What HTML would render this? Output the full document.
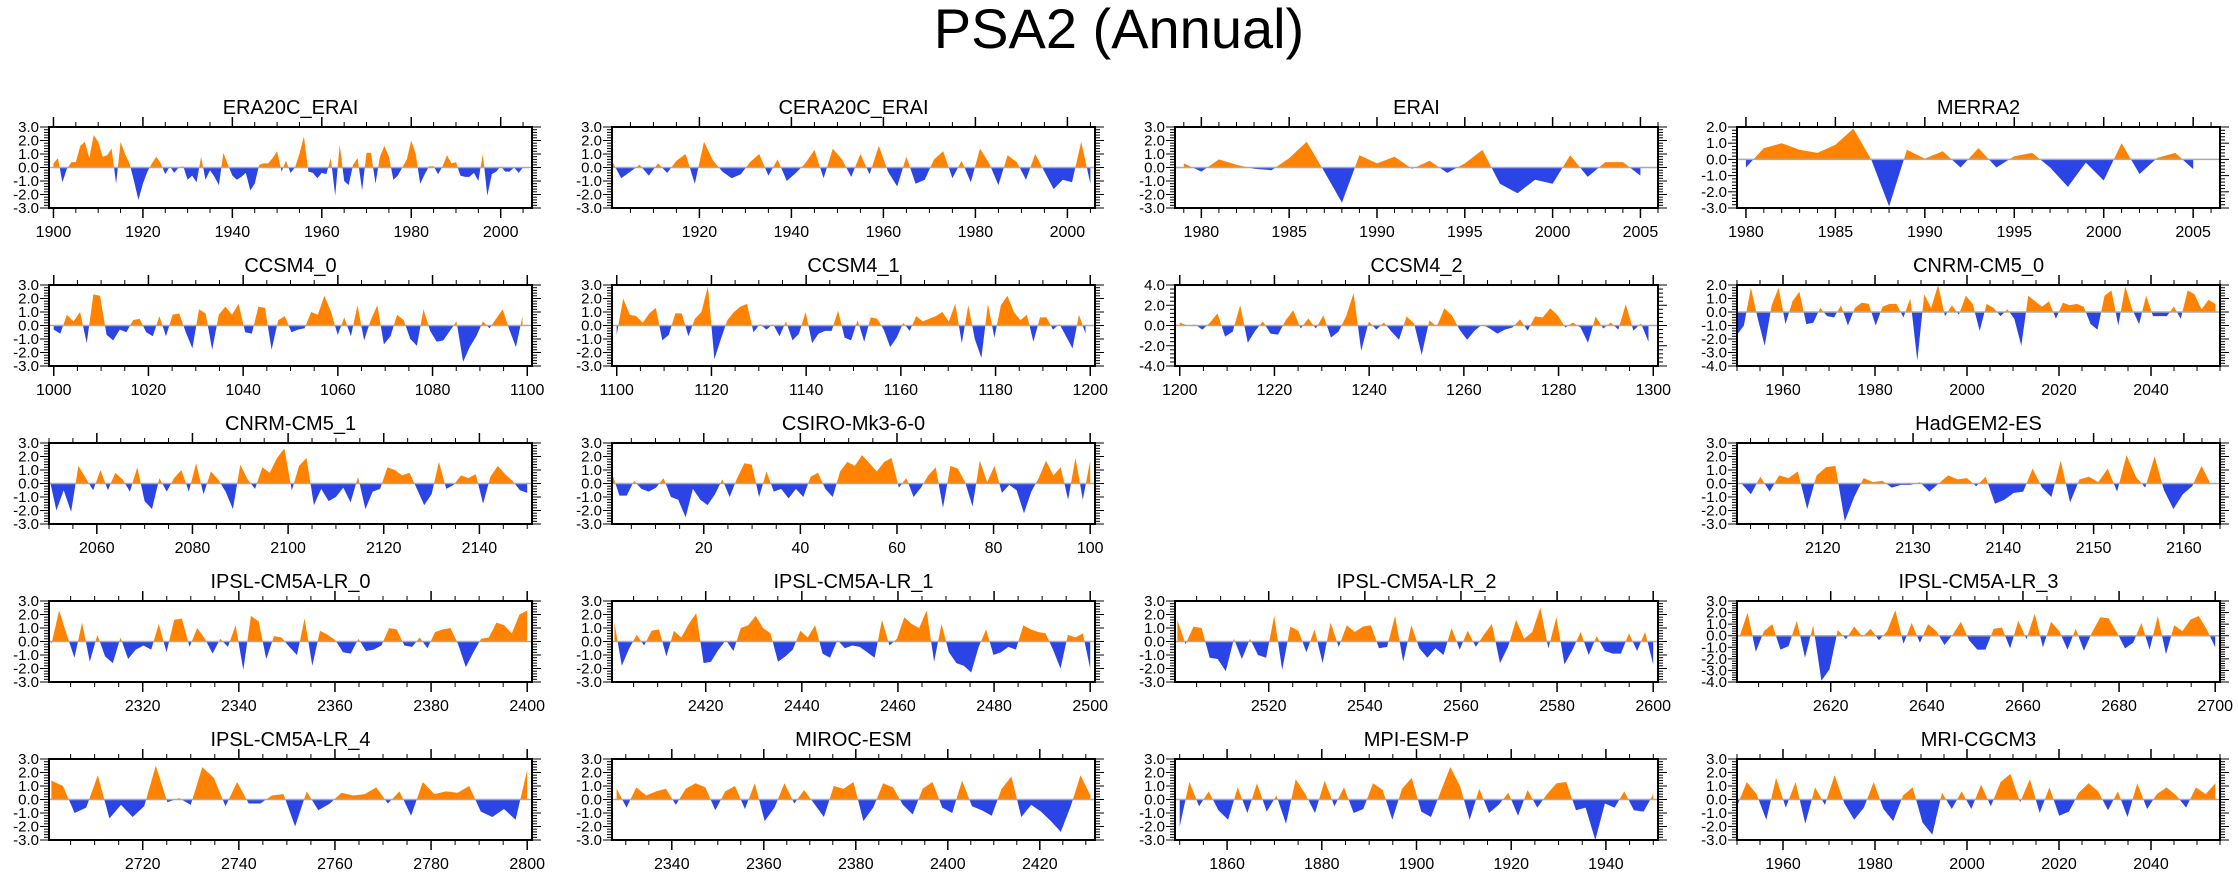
<!DOCTYPE html>
<html><head><meta charset="utf-8"><title>PSA2 (Annual)</title>
<style>
html,body{margin:0;padding:0;background:#fff;}
svg{display:block;font-family:"Liberation Sans",Arial,sans-serif;}
</style></head>
<body>
<svg id="chart" width="2238" height="877" viewBox="0 0 2238 877" xmlns="http://www.w3.org/2000/svg">
<text x="1119" y="48" text-anchor="middle" font-size="56" fill="#000">PSA2 (Annual)</text>
</svg>
<script>
// ---- data arrays ----
const panelNames = ["ERA20C_ERAI","CERA20C_ERAI","ERAI","MERRA2","CCSM4_0","CCSM4_1","CCSM4_2","CNRM-CM5_0","CNRM-CM5_1","CSIRO-Mk3-6-0","HadGEM2-ES","IPSL-CM5A-LR_0","IPSL-CM5A-LR_1","IPSL-CM5A-LR_2","IPSL-CM5A-LR_3","IPSL-CM5A-LR_4","MIROC-ESM","MPI-ESM-P","MRI-CGCM3"];
const dataStart = [1900,1901,1979,1980,1000,1100,1200,1950,2050,1,2111,2301,2401,2501,2601,2701,2328,1850,1950];
const dataEnd   = [2005,2005,2005,2005,1099,1199,1299,2054,2150,100,2163,2400,2500,2600,2700,2800,2431,1950,2054];
const axisMin   = [1899,1901,1978.5,1979.5,999,1099,1199,1950,2050,1,2110.5,2300.5,2400.5,2500.5,2600.5,2700.5,2327,1849,1950];
const axisMax   = [2007,2006,2006,2006.5,1101,1201,1301,2055,2151,101,2164,2401,2501,2601,2701,2801,2432,1951,2055];
const yMin = [-3,-3,-3,-3,-3,-3,-4,-4,-3,-3,-3,-3,-3,-3,-4,-3,-3,-3,-3];
const yMax = [3,3,3,2,3,3,4,2,3,3,3,3,3,3,3,3,3,3,3];
const yStep = [1,1,1,1,1,1,2,1,1,1,1,1,1,1,1,1,1,1,1];
const xMajor = [20,20,5,5,20,20,20,20,20,20,10,20,20,20,20,20,20,20,20];
const xMinor = [5,5,1,1,5,5,5,5,5,5,2,5,5,5,5,5,5,5,5];
const s0 = [0.3,0.7,-1.1,-0.1,0.4,0.4,1.6,1.9,0.7,2.4,1.9,0.8,0.9,1.4,-1.2,1.9,1.0,0.3,-1.0,-2.4,-1.2,-0.3,0.3,0.8,0.3,-0.5,0.1,-0.4,0,0.1,-0.9,-0.6,-1.1,0.8,-0.9,-0.2,-0.7,-1.3,1.1,0.2,-0.6,-0.9,-0.7,-0.4,-1.7,-1.2,0.2,0.3,0.3,0.7,1.2,-0.3,0.5,-0.4,0,1.0,2.3,-0.3,-0.4,-0.8,-0.4,-0.5,0.7,-2.1,1.7,-1.0,-1.3,0.2,0.7,-1.7,1.1,1.1,-1.2,0.8,1.6,0.8,-0.9,-0.6,0,0.6,2.0,1.0,-1.2,-0.5,0.1,0.1,-0.5,0.1,0.9,0.3,0.4,-0.6,-0.7,-0.7,-0.4,-1.0,1.0,-2.1,-0.5,-0.3,0.1,-0.3,-0.3,0,-0.4,0];
const s1 = [0.5,-0.8,-0.3,0.2,-0.6,0.3,-0.4,0.5,1.0,-1.2,1.9,0.5,-0.3,-0.8,-0.5,0.4,1.0,-0.6,0.6,-1.0,-0.4,0.3,1.3,-0.8,1.4,0.6,-0.7,1.0,-0.5,1.6,-0.3,-1.4,0.8,-1.2,-0.9,0.6,1.2,-0.8,0.5,-1.1,1.4,0.3,-1.3,0.9,0.4,-0.9,1.0,-0.3,-1.6,-0.9,-1.1,1.9,-1.2];
const s2 = [0.3,-0.3,0.6,0.2,-0.1,-0.2,0.7,1.9,-0.3,-2.6,0.9,0.3,0.8,-0.1,0.5,-0.4,0.3,1.3,-1.2,-1.9,-0.9,-1.2,0.9,-0.7,0.4,0.4,-0.6];
const s3 = [-0.5,0.7,1.0,0.6,0.4,0.9,1.9,0,-2.9,0.6,0.05,0.5,-0.5,0.7,-0.5,0.2,0.4,-0.5,-1.7,-0.2,-1.3,1.0,-0.9,0.1,0.4,-0.6];
const s4 = [-0.3,-0.6,0.8,0.3,1.0,-1.3,2.3,2.2,-0.7,-1.1,-0.3,-0.5,0.4,0.5,-0.5,-0.8,0.7,-0.8,0.8,0.9,-0.5,-1.7,1.2,0.9,-1.8,0.8,1.4,0.8,1.6,-0.5,-0.6,1.4,1.3,-1.8,0.4,0.7,-0.5,-0.3,-0.2,1.0,0.8,2.2,1.0,-0.7,0.6,-0.8,1.5,-1.1,0.4,1.5,-1.4,-0.8,0.8,0.4,-1.0,-1.5,1.2,-0.4,-1.2,-1.1,-0.4,0.3,-2.7,-1.6,-0.8,0.3,-0.2,0.5,1.2,-0.3,-1.6,0.7];
const s5 = [-0.7,2.0,0.8,0.7,0.2,0.9,1.3,-1.1,-0.7,0.9,0.9,-0.8,0.5,1.0,2.9,-2.5,-1.0,0.4,1.0,1.4,1.6,-0.5,0.1,-0.3,0.1,-0.8,0.3,-1.1,-0.6,1.0,-1.3,-0.6,-0.4,-0.4,1.1,-0.9,-1.1,0.4,-1.2,0.6,0.5,-0.3,-1.6,-0.9,0.2,-0.4,0.7,0.3,0.5,0.7,1.0,0.3,1.6,-1.3,1.5,-1.0,-2.4,1.6,-0.9,1.5,2.2,1.0,0.4,0.8,-1.2,0.6,0.6,-0.3,0.1,-0.8,-1.7,0.8,-0.6];
const s6 = [0.3,0,0.1,-0.4,0.3,1.2,-1.1,-0.6,2.0,-1.7,-0.5,0.4,-0.8,-0.9,0.5,1.5,-0.3,0.7,-0.3,1.0,-1.2,-0.6,0.9,3.2,-2.5,0.4,-0.4,0.3,-0.6,-1.4,0.9,0.2,-2.9,0.5,-0.1,1.7,1.0,-0.4,-1.4,-0.5,0.1,-0.3,-0.8,-0.4,-0.2,0.6,-0.5,0.9,0.8,1.7,1.0,-0.2,0.3,-0.2,-1.7,0.9,-0.3,0.3,-0.4,2.1,-0.5,0.2,-1.6];
const s7 = [-1.7,-1.0,1.8,-0.5,-2.5,0.5,1.8,-0.9,0.8,1.5,-0.9,-0.8,0.3,-0.3,-0.4,0.5,-1.0,0.3,0.7,0.6,-1.0,0.4,0.6,0.6,-0.4,1.0,-3.6,1.3,0.3,2.0,-0.3,0.5,-0.2,1.2,0.6,-1.4,0.6,0.3,-0.3,0.2,-0.5,-2.5,1.2,0.8,0.4,0.8,-0.5,0.7,0.5,0.6,0.4,-0.9,-1.3,1.2,1.6,-1.0,1.9,0.2,-0.9,1.2,-0.3,-0.3,-0.3,0.4,-0.5,1.6,1.3,0.2,0.9,0.6];
const s8 = [0.5,-2.0,-0.5,-2.1,1.3,0.4,-0.5,1.0,-0.5,0.8,0.3,-0.6,1.2,-1.3,-1.9,0.4,-0.6,0.4,1.0,-0.6,1.5,-0.8,0.9,0.3,-0.6,-1.9,1.4,0.3,-0.4,1.2,0.8,1.9,2.6,-0.5,1.3,1.9,-1.6,-0.4,-1.3,-1.0,-0.3,-1.4,0.5,-1.9,-0.6,-0.4,1.2,1.0,0.6,0.8,-0.4,-1.6,-0.8,1.6,-0.4,-0.1,0.6,0.4,0.7,-1.5,0.5,1.3,0.7,0.2,-0.5,-0.7];
const s9 = [0.8,-0.9,-0.9,0.2,-0.4,-0.6,-0.3,0.4,-1.0,-1.2,-2.5,-0.4,-1.2,-1.6,-0.8,0.3,-1.0,0.4,1.5,1.4,-1.0,0.9,-0.6,-0.4,-1.1,-0.4,-1.0,0.5,0.8,-0.4,-1.0,0.9,1.6,1.3,2.1,1.5,0.9,1.6,1.9,-0.3,0.4,-1.0,-0.3,0.6,1.2,-1.8,1.3,1.1,0.1,-1.7,1.7,0.1,1.3,-0.7,-0.1,-0.5,-2.2,-0.6,0.4,1.7,0.6,1.2,-1.2,1.9,-1.2,1.7];
const s10 = [0,-0.8,0.5,-0.6,0.6,0.4,0.9,-1.9,0.6,1.2,1.3,-2.8,-1.0,0.4,0.1,0.2,-0.3,-0.1,-0.1,0.1,-0.6,0,0.6,0.3,0.4,-0.2,0.5,-1.5,-1.2,-0.7,-0.6,1.1,-0.3,-1.0,1.7,-1.4,0.3,0.5,0.1,1.1,-0.6,2.1,0.5,-0.3,2.0,-0.5,-1.9,-0.8,-0.2,1.3,-0.1];
const s11 = [-0.2,2.3,0.5,-1.2,1.4,-1.5,0.5,-1.1,-1.6,0.3,-1.3,-0.6,-0.3,-0.6,1.3,-0.8,1.6,1.7,-0.4,1.0,0.2,-0.9,0.2,-0.4,1.2,-2.1,1.9,1.5,-1.3,0.4,0.3,-0.4,-1.0,1.7,-1.8,0.8,0.5,0.1,-0.8,-0.9,0.2,-0.7,-0.6,-0.3,1.0,0.9,-0.3,-0.4,0.3,-0.5,0.7,0.9,1.0,-0.2,-1.9,-0.8,0.2,0.3,1.4,1.2,0.6,2.0,2.3];
const s12 = [1.4,-1.8,-0.5,0.5,-0.3,0.8,0.9,-1.1,0.8,0.3,1.3,2.1,-1.6,-1.5,-0.6,0.1,-0.7,1.0,1.2,1.9,1.0,0.6,-1.5,-1.1,-0.6,0.8,0.3,1.2,-0.9,-1.2,0.1,-0.5,-0.3,-0.4,-0.8,-1.2,1.6,-0.3,0.2,1.8,1.3,1.0,2.3,-1.5,1.3,-0.8,-1.6,-1.8,-2.3,-0.4,0.9,-1.0,-0.8,-0.4,-0.6,1.2,0.9,0.7,0.6,-0.6,-2.0,0.5,0.3,0.6,-2.0];
const s13 = [1.6,-0.2,1.1,1.0,-1.2,-1.3,-2.2,0.2,-1.3,0.2,-1.0,-1.2,1.9,-2.1,1.1,0.8,-0.8,0.9,-1.6,1.4,-0.4,1.2,0.7,1.1,1.2,-0.5,-0.4,1.9,-1.5,1.2,-0.5,-1.2,-0.5,-1.0,1.0,-0.6,0.8,-0.4,0.5,1.3,-1.6,-0.4,1.6,0.2,0.7,2.5,-0.5,1.8,-1.7,-0.6,0.7,-1.0,0.4,-0.7,-0.9,-0.9,0.6,-0.7,0.7,-1.7];
const s14 = [-0.1,2.0,-1.4,0.4,1.0,-1.2,-0.9,1.3,-1.9,0.9,-3.9,-2.9,0.5,-0.3,0.8,-0.1,0.6,-0.4,0.4,2.2,-0.7,1.1,-0.6,1.0,0.4,-0.8,0.1,1.2,-0.4,-1.2,-1.2,0.6,0.7,-1.1,1.3,-0.3,1.9,-1.0,1.2,0.4,-1.2,0.6,-1.3,0.3,1.6,1.5,0.3,-1.1,-0.6,1.1,-1.2,1.7,-1.6,0.9,0.4,1.4,1.7,0.5,-1.0];
const s15 = [1.4,1.0,-1.0,-0.6,1.8,-1.4,-0.4,-1.3,-0.5,2.5,-0.2,0.1,-0.4,2.4,1.6,-0.5,1.3,-0.3,-0.3,0.3,0.4,-2.0,0.6,-0.8,-0.3,0.5,0.3,0.4,0.9,-0.3,0.6,-1.2,1.3,0.4,0.6,0.5,1.0,-0.9,-1.3,-0.7,-1.5,2.2];
const s16 = [0.8,-0.6,0.9,0.3,0.6,0.8,-0.4,0.8,1.2,0.9,-0.8,0.6,1.0,-0.7,1.2,-1.6,-0.6,1.2,-0.3,0.7,-0.3,-1.3,1.0,0.8,1.3,-1.6,-0.6,1.2,0.9,-0.4,-1.1,0.8,1.3,-0.6,-1.0,1.4,-0.5,-0.8,-1.2,0.8,1.7,-1.3,-0.4,-0.9,-1.6,-2.4,-0.5,1.8,0.3];
const s17 = [-2.0,1.3,-0.5,0.6,-0.8,-1.5,0.9,-1.0,1.2,-0.9,0.3,-1.8,1.5,0.4,-1.0,1.4,-0.5,0.9,-1.0,-0.7,1.2,0.7,-1.5,0.8,1.6,-0.9,-1.3,0.6,2.4,1.0,-1.5,0.8,-1.0,-0.4,0.5,-1.2,0.7,-0.6,0.4,1.2,1.3,-0.8,-0.6,-3.0,-0.3,-0.6,0.6,-0.8,-0.9,0.4];
const s18 = [-0.5,1.3,0.4,-1.5,1.6,-0.6,1.3,-1.8,0.9,-0.4,1.8,-0.3,-1.5,-0.6,1.3,-0.7,-1.6,0.3,0.9,-1.7,-2.6,0.5,-0.7,0.6,-0.7,1.1,-0.5,1.3,1.9,-0.2,1.5,-1.0,0.9,-1.2,-0.9,0.5,1.2,0.6,-0.8,0.6,-1.3,1.2,-0.7,0.4,0.9,0.3,-0.6,0.9,0.4,1.2];
const series = [s0,s1,s2,s3,s4,s5,s6,s7,s8,s9,s10,s11,s12,s13,s14,s15,s16,s17,s18];
const slotRow = [0,0,0,0,1,1,1,1,2,2,2,3,3,3,3,4,4,4,4];
const slotCol = [0,1,2,3,0,1,2,3,0,1,3,0,1,2,3,0,1,2,3];

const NS = "http://www.w3.org/2000/svg";
const svg = document.getElementById("chart");
const colLeft = [49,612,1175,1737], boxW = 483, rowTop = [127,285,443,601,759], boxH = 81;
function mk(tag, attrs, parent){const e=document.createElementNS(NS,tag);for(const k in attrs)e.setAttribute(k,attrs[k]);(parent||svg).appendChild(e);return e;}

series.forEach((vals, p) => {
  const L = colLeft[slotCol[p]], T = rowTop[slotRow[p]], R = L + boxW, B = T + boxH;
  const g = mk("g", {});
  
  
  const xs = v => L + (v - axisMin[p]) / (axisMax[p] - axisMin[p]) * boxW;
  const ys = v => B - (v - yMin[p]) / (yMax[p] - yMin[p]) * boxH;
  const t = mk("text", {x: (L+R)/2, y: T - 13, "text-anchor": "middle", "font-size": 20, fill: "#000"}, g);
  t.textContent = panelNames[p];
  
  
  const cid = "clip" + p;
  const defs = mk("defs", {}, g);
  const cu = mk("clipPath", {id: cid + "u"}, defs); mk("rect", {x: L, y: T, width: boxW, height: ys(0) - T}, cu);
  const cd = mk("clipPath", {id: cid + "d"}, defs); mk("rect", {x: L, y: ys(0), width: boxW, height: B - ys(0)}, cd);
  const n = vals.length, step = (dataEnd[p] - dataStart[p]) / (n - 1);
  let pts = [];
  vals.forEach((v, i) => { pts.push(xs(dataStart[p] + i * step).toFixed(1) + "," + ys(v).toFixed(1)); });
  const y0 = ys(0).toFixed(1);
  const poly = xs(dataStart[p]).toFixed(1) + "," + y0 + " " + pts.join(" ") + " " + xs(dataEnd[p]).toFixed(1) + "," + y0;
  const pu = mk("polygon", {points: poly, fill: "#ff8300", "clip-path": "url(#" + cid + "u)"}, g);
  
  
  const pd = mk("polygon", {points: poly, fill: "#2b44e6", "clip-path": "url(#" + cid + "d)"}, g);
  
  
  const zl = mk("line", {x1: L, x2: R, y1: y0, y2: y0, stroke: "#aaa", "stroke-width": 1.5}, g);
  
  
  const box = mk("rect", {x: L, y: T, width: boxW, height: boxH, fill: "none", stroke: "#000", "stroke-width": 2}, g);
  
  
  for (let v = yMin[p]; v <= yMax[p] + 1e-6; v += 0.2 * (yStep[p] === 2 ? 2 : 1)) {
    const yy = ys(v), major = Math.abs(v / yStep[p] - Math.round(v / yStep[p])) < 1e-6;
    const len = major ? 9 : 5;
    mk("line", {x1: L - len, x2: L, y1: yy, y2: yy, stroke: "#000", "stroke-width": 1}, g);
    mk("line", {x1: R, x2: R + len, y1: yy, y2: yy, stroke: "#000", "stroke-width": 1}, g);
    if (major) {
      const lt = mk("text", {x: L - 10, y: yy + 5, "text-anchor": "end", "font-size": 15, fill: "#000"}, g);
      lt.textContent = (Math.abs(v) < 1e-6 ? 0 : v).toFixed(1);
      
      
    }
  }
  const mn = Math.ceil(axisMin[p] / xMinor[p]) * xMinor[p];
  for (let v = mn; v <= axisMax[p] + 1e-6; v += xMinor[p]) {
    const xx = xs(v), major = v % xMajor[p] === 0;
    const len = major ? 10 : 5;
    mk("line", {x1: xx, x2: xx, y1: B, y2: B + len, stroke: "#000", "stroke-width": major ? 1.5 : 1}, g);
    mk("line", {x1: xx, x2: xx, y1: T - len, y2: T, stroke: "#000", "stroke-width": major ? 1.5 : 1}, g);
    if (major) {
      const xt = mk("text", {x: xx, y: B + 29, "text-anchor": "middle", "font-size": 16, fill: "#000"}, g);
      xt.textContent = v;
      
      
    }
  }
});
</script>
</body></html>
